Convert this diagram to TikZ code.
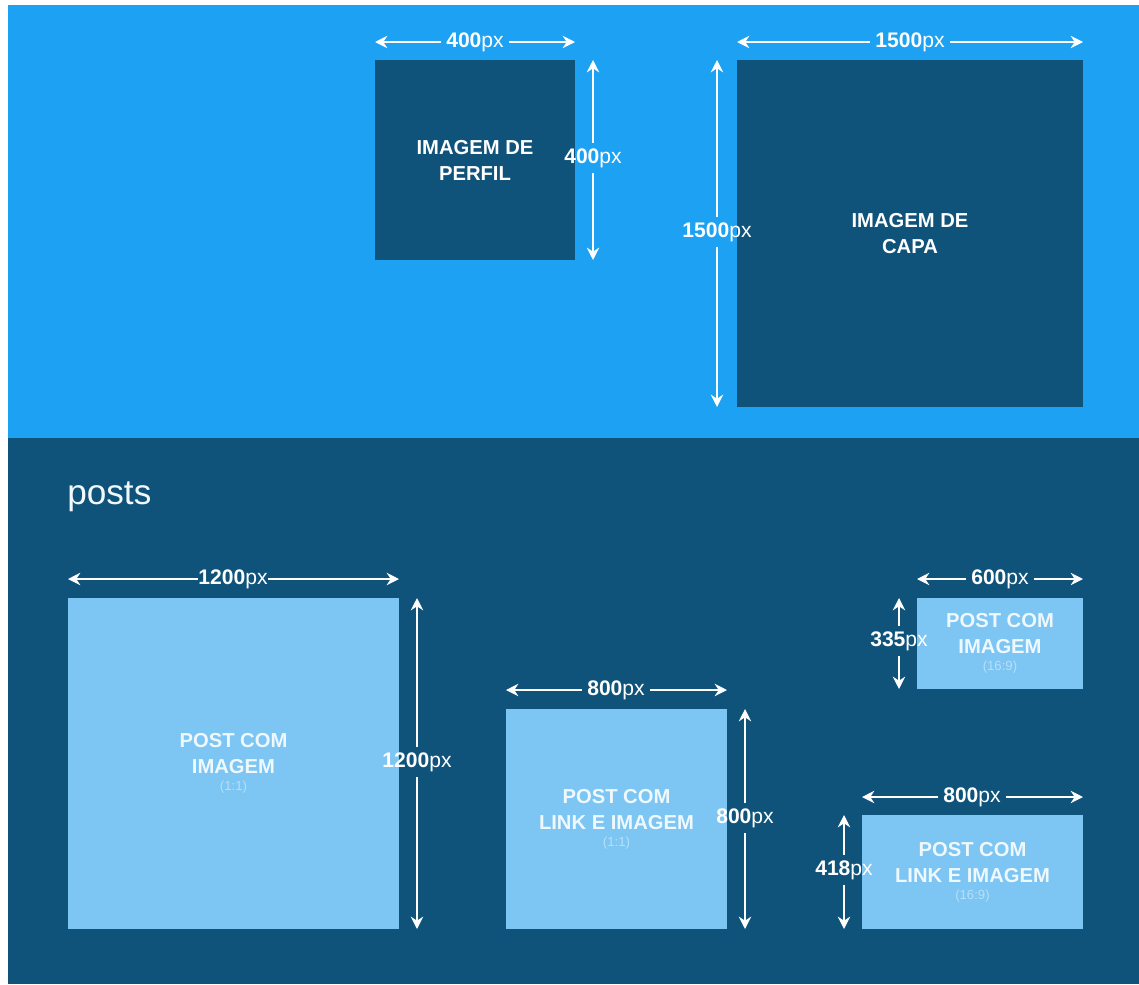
\documentclass[tikz,border=0pt]{standalone}
\usepackage{fontspec}
\setmainfont{Liberation Sans}
\usetikzlibrary{positioning, arrows.meta}
\definecolor{skyblue}{HTML}{1DA1F2}
\definecolor{navy}{HTML}{10537A}
\definecolor{paleblue}{HTML}{7DC5F3}
\newcommand{\pxval}[1]{\textbf{#1}px}
\newcommand{\ratiotext}[1]{{\mdseries\fontsize{7.5}{9}\selectfont\color{white!45!paleblue}#1}}

\begin{document}
\begin{tikzpicture}[
      x=0.02cm, y=-0.02cm,
      >={Stealth[length=7pt,width=7pt]},
      dimline/.style={->, draw=white, line width=1.1pt},
      dimlabel/.style={text=white, font=\fontsize{12}{14}\selectfont, inner sep=3pt},
      imgbox/.style={
        rectangle, anchor=north west, inner sep=0pt, outer sep=0pt,
        text=white, align=center, font=\bfseries\fontsize{11.5}{14.8}\selectfont,
      },
      profile/.style={imgbox, fill=navy},
      post/.style={imgbox, fill=paleblue, text=white!88!paleblue}
    ]
      % background bands
      \useasboundingbox (0,0) rectangle (1139,984);
      \fill[white] (0,0) rectangle (1139,984);
      \fill[skyblue] (8,5) rectangle (1139,438);
      \fill[navy] (8,438) rectangle (1139,984);

      % profile and cover
      \node[profile, minimum width=4cm, minimum height=4cm] (perfil) at (375,60) {IMAGEM DE\\PERFIL};
      \node[profile, minimum width=6.92cm, minimum height=6.94cm] (capa) at (737,60) {IMAGEM DE\\CAPA};

      % posts
      \node[text=white!90!paleblue, font=\fontsize{20}{24}\selectfont, anchor=west, inner sep=0pt] (posts) at (67,497) {posts};
      \node[post, minimum width=6.62cm, minimum height=6.62cm] (postimg) at (68,598)
        {POST COM\\IMAGEM\\[-5pt]\ratiotext{(1:1)}};
      \node[post, minimum width=4.42cm, minimum height=4.4cm] (postlink) at (506,709)
        {POST COM\\LINK E IMAGEM\\[-5pt]\ratiotext{(1:1)}};
      \node[post, minimum width=3.32cm, minimum height=1.82cm] (postwide) at (917,598)
        {POST COM\\IMAGEM\\[-5pt]\ratiotext{(16:9)}};
      \node[post, minimum width=4.42cm, minimum height=2.28cm] (linkwide) at (862,815)
        {POST COM\\LINK E IMAGEM\\[-5pt]\ratiotext{(16:9)}};

      % dimension labels
      \node[dimlabel] (perfilw) at (475,42) {\pxval{400}};
      \node[dimlabel] (perfilh) at (593,158) {\pxval{400}};
      \node[dimlabel] (capaw) at (910,42) {\pxval{1500}};
      \node[dimlabel] (capah) at (717,232) {\pxval{1500}};
      \node[dimlabel, inner sep=0pt] (postimgw) at (233,579) {\pxval{1200}};
      \node[dimlabel] (postimgh) at (417,762) {\pxval{1200}};
      \node[dimlabel] (postlinkw) at (616,690) {\pxval{800}};
      \node[dimlabel] (postlinkh) at (745,818) {\pxval{800}};
      \node[dimlabel] (postwidew) at (1000,579) {\pxval{600}};
      \node[dimlabel] (postwideh) at (899,641) {\pxval{335}};
      \node[dimlabel] (linkwidew) at (972,797) {\pxval{800}};
      \node[dimlabel] (linkwideh) at (844,870) {\pxval{418}};

      % arrow ends
      \coordinate (perfilwl) at (375,42);  \coordinate (perfilwr) at (575,42);
      \coordinate (perfilht) at (593,60);  \coordinate (perfilhb) at (593,260);
      \coordinate (capawl) at (737,42);    \coordinate (capawr) at (1083,42);
      \coordinate (capaht) at (717,60);    \coordinate (capahb) at (717,407);
      \coordinate (postimgwl) at (68,579); \coordinate (postimgwr) at (399,579);
      \coordinate (postimght) at (417,598); \coordinate (postimghb) at (417,929);
      \coordinate (postlinkwl) at (506,690); \coordinate (postlinkwr) at (727,690);
      \coordinate (postlinkht) at (745,709); \coordinate (postlinkhb) at (745,929);
      \coordinate (postwidewl) at (917,579); \coordinate (postwidewr) at (1083,579);
      \coordinate (postwideht) at (899,598); \coordinate (postwidehb) at (899,689);
      \coordinate (linkwidewl) at (862,797); \coordinate (linkwidewr) at (1083,797);
      \coordinate (linkwideht) at (844,815); \coordinate (linkwidehb) at (844,929);

      % draw arrows
      \foreach \d in {perfil, capa, postimg, postlink, postwide, linkwide} {
        \draw[dimline] (\d w.west) -- (\d wl);
        \draw[dimline] (\d w.east) -- (\d wr);
        \draw[dimline] (\d h.north) -- (\d ht);
        \draw[dimline] (\d h.south) -- (\d hb);
      }
    \end{tikzpicture}
\end{document}
